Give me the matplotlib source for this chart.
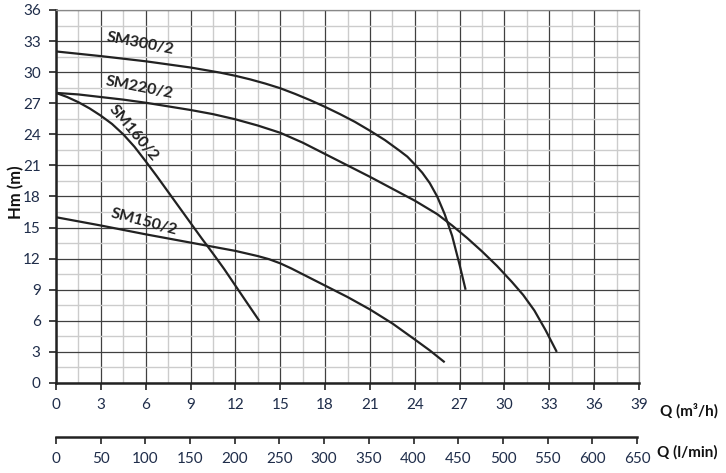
import matplotlib
matplotlib.use("Agg")
import matplotlib.pyplot as plt
from matplotlib.ticker import MultipleLocator

# ---- data ----
sm300_q = [0, 3, 6, 9, 11, 12, 13, 14, 15, 16, 17, 18, 19, 20, 21, 22, 23, 23.5, 24, 24.5,
           25, 25.5, 26, 26.5, 27, 27.4]
sm300_h = [32, 31.55, 31.05, 30.45, 29.95, 29.65, 29.3, 28.9, 28.45, 27.9, 27.3, 26.65, 25.95, 25.2,
           24.35, 23.45, 22.4, 21.85, 21.1, 20.3, 19.3, 18.0, 16.3, 14.2, 11.4, 9.0]

sm220_q = [0, 1.5, 3, 4.5, 6, 7.5, 9, 10.5, 12, 13.5, 15, 16.5, 18, 19.5, 21, 22.5, 24, 25.5,
           26.5, 27.5, 28.5, 29.5, 30.5, 31.25, 32, 32.75, 33.5]
sm220_h = [28, 27.85, 27.6, 27.35, 27.05, 26.7, 26.35, 25.95, 25.45, 24.85, 24.15, 23.2, 22.1, 21.0,
           19.9, 18.75, 17.6, 16.3, 15.2, 14.0, 12.7, 11.3, 9.75, 8.5, 7.0, 5.1, 3.0]

sm160_q = [0, 0.75, 1.5, 2.25, 3, 3.75, 4.5, 5.25, 6, 6.75, 7.5, 8.25, 9, 9.75, 10.5, 11.25,
           12, 12.75, 13.6]
sm160_h = [28, 27.6, 27.1, 26.5, 25.8, 25.0, 24.0, 22.8, 21.4, 19.95, 18.45, 16.95, 15.45, 13.95,
           12.5, 11.0, 9.4, 7.8, 6.0]

sm150_q = [0, 3, 6, 9, 12, 13.5, 14.25, 15, 15.75, 16.5, 18, 19.5, 21, 22.5, 24, 25, 26]
sm150_h = [16, 15.2, 14.35, 13.55, 12.75, 12.25, 11.95, 11.55, 11.05, 10.5, 9.4, 8.3, 7.1, 5.75,
           4.2, 3.15, 2.0]

series_names = ["SM300/2", "SM220/2", "SM160/2", "SM150/2"]

x_ticks_m3h = list(range(0, 40, 3))
y_ticks = list(range(0, 37, 3))
x_ticks_lmin = list(range(0, 651, 50))

# ---- style ----
plt.rcParams['font.family'] = ['Lato', 'DejaVu Sans']
tick_color = '#1f2d4a'
line_color = '#222222'

fig = plt.figure(figsize=(7.26, 4.73), dpi=100)
W, H = 726, 473
left_px, right_px, top_px, bottom_px = 56, 639, 10, 383
ax = fig.add_axes([left_px / W, 1 - bottom_px / H, (right_px - left_px) / W, (bottom_px - top_px) / H])

ax.set_xlim(0, 39)
ax.set_ylim(0, 36)
ax.xaxis.set_minor_locator(MultipleLocator(1.5))
ax.yaxis.set_minor_locator(MultipleLocator(1.5))
ax.set_xticks(x_ticks_m3h)
ax.set_yticks(y_ticks)
ax.grid(which='minor', color='#cccccc', linewidth=1.0)
ax.grid(which='major', color='#404040', linewidth=0.9)
ax.set_axisbelow(True)
ax.tick_params(which='minor', length=0)
ax.tick_params(which='major', length=5, width=1.2, color='#222222', labelsize=11,
               labelcolor=tick_color, pad=6)

for s in ['top', 'right']:
    ax.spines[s].set_color('#888888')
    ax.spines[s].set_linewidth(0.9)
for s in ['left', 'bottom']:
    ax.spines[s].set_color('#222222')
    ax.spines[s].set_linewidth(1.8)

lw = 1.6
for q, h in [(sm300_q, sm300_h), (sm220_q, sm220_h), (sm160_q, sm160_h), (sm150_q, sm150_h)]:
    ax.plot(q, h, color=line_color, lw=lw, solid_capstyle='butt', solid_joinstyle='round', zorder=3)

label_kw = dict(fontsize=11.5, fontweight='bold', color='#222222', ha='center', va='center',
                rotation_mode='anchor', zorder=4)
ax.text(5.6, 32.75, series_names[0], rotation=-11, **label_kw)
ax.text(5.6, 28.55, series_names[1], rotation=-11, **label_kw)
ax.text(5.15, 24.1, series_names[2], rotation=-50, **label_kw)
ax.text(5.9, 15.55, series_names[3], rotation=-15, **label_kw)

ax.set_ylabel('Hm (m)', fontsize=12, fontweight='bold', color='#111111')
ax.yaxis.set_label_coords((24 - left_px) / (right_px - left_px), (bottom_px - 192) / (bottom_px - top_px))
fig.text(718 / W, 1 - 411 / H, 'Q (m³/h)', fontsize=11, fontweight='bold', color='#111111',
         ha='right', va='center')

# ---- second axis (l/min) ----
ax2_right_px = 637
ax2 = fig.add_axes([left_px / W, 1 - 437 / H, (ax2_right_px - left_px) / W, 0.0001])
ax2.set_xlim(0, 650)
ax2.set_ylim(0, 1)
ax2.set_xticks(x_ticks_lmin)
ax2.set_yticks([])
for s in ['top', 'right', 'left']:
    ax2.spines[s].set_visible(False)
ax2.spines['bottom'].set_color('#222222')
ax2.spines['bottom'].set_linewidth(1.8)
ax2.tick_params(axis='x', length=5, width=1.2, color='#222222', labelsize=11,
                labelcolor=tick_color, pad=6)
ax2.patch.set_visible(False)
fig.text(718 / W, 1 - 452 / H, 'Q (l/min)', fontsize=11, fontweight='bold', color='#111111',
         ha='right', va='center')

fig.savefig('out.png', dpi=100)
